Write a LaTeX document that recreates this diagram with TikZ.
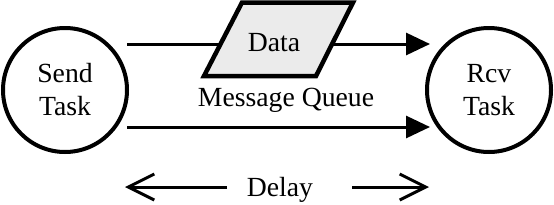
\documentclass[tikz,border=0pt]{standalone}
\usepackage{fontspec}
\setmainfont{Liberation Serif}
\usetikzlibrary{arrows.meta}
\definecolor{qgray}{HTML}{EBEBEB}
\tikzset{
  task/.style={circle, draw, line width=4pt, minimum size=124pt, inner sep=0pt, align=center, font=\fontsize{27.7}{33}\selectfont},
  lbl/.style={inner sep=0pt, anchor=base, font=\fontsize{27.7}{33}\selectfont},
  flow/.style={line width=3pt, -{Triangle[length=24pt,width=22pt]}},
  span/.style={line width=3pt, -{Straight Barb[length=26pt,width=26pt]}},
  qbox/.style={draw, line width=4.5pt, fill=qgray, line join=miter}
}
\begin{document}
\begin{tikzpicture}[x=1pt,y=-1pt]
\useasboundingbox (0,0) rectangle (554,204);
\node[task] (send) at (65,90) {Send\\Task};
\node[task] (rcv) at (489,90) {Rcv\\Task};
\coordinate (s1) at (127,44);
\coordinate (r1) at (430,44);
\coordinate (s2) at (127,127);
\coordinate (r2) at (430,127);
\draw[flow] (s1) -- (r1);
\draw[flow] (s2) -- (r2);
\draw[qbox] (204,76) -- (242,2.5) -- (353,2.5) -- (316,76) -- cycle;
\node[lbl] (data) at (274,51) {Data};
\node[lbl] (mq) at (286,106) {Message Queue};
\node[lbl] (delay) at (280,196) {Delay};
\coordinate (dl) at (125,187);
\coordinate (dr) at (429,187);
\coordinate (dl0) at (227,187);
\coordinate (dr0) at (352,187);
\draw[span] (dl0) -- (dl);
\draw[span] (dr0) -- (dr);
\end{tikzpicture}
\end{document}
